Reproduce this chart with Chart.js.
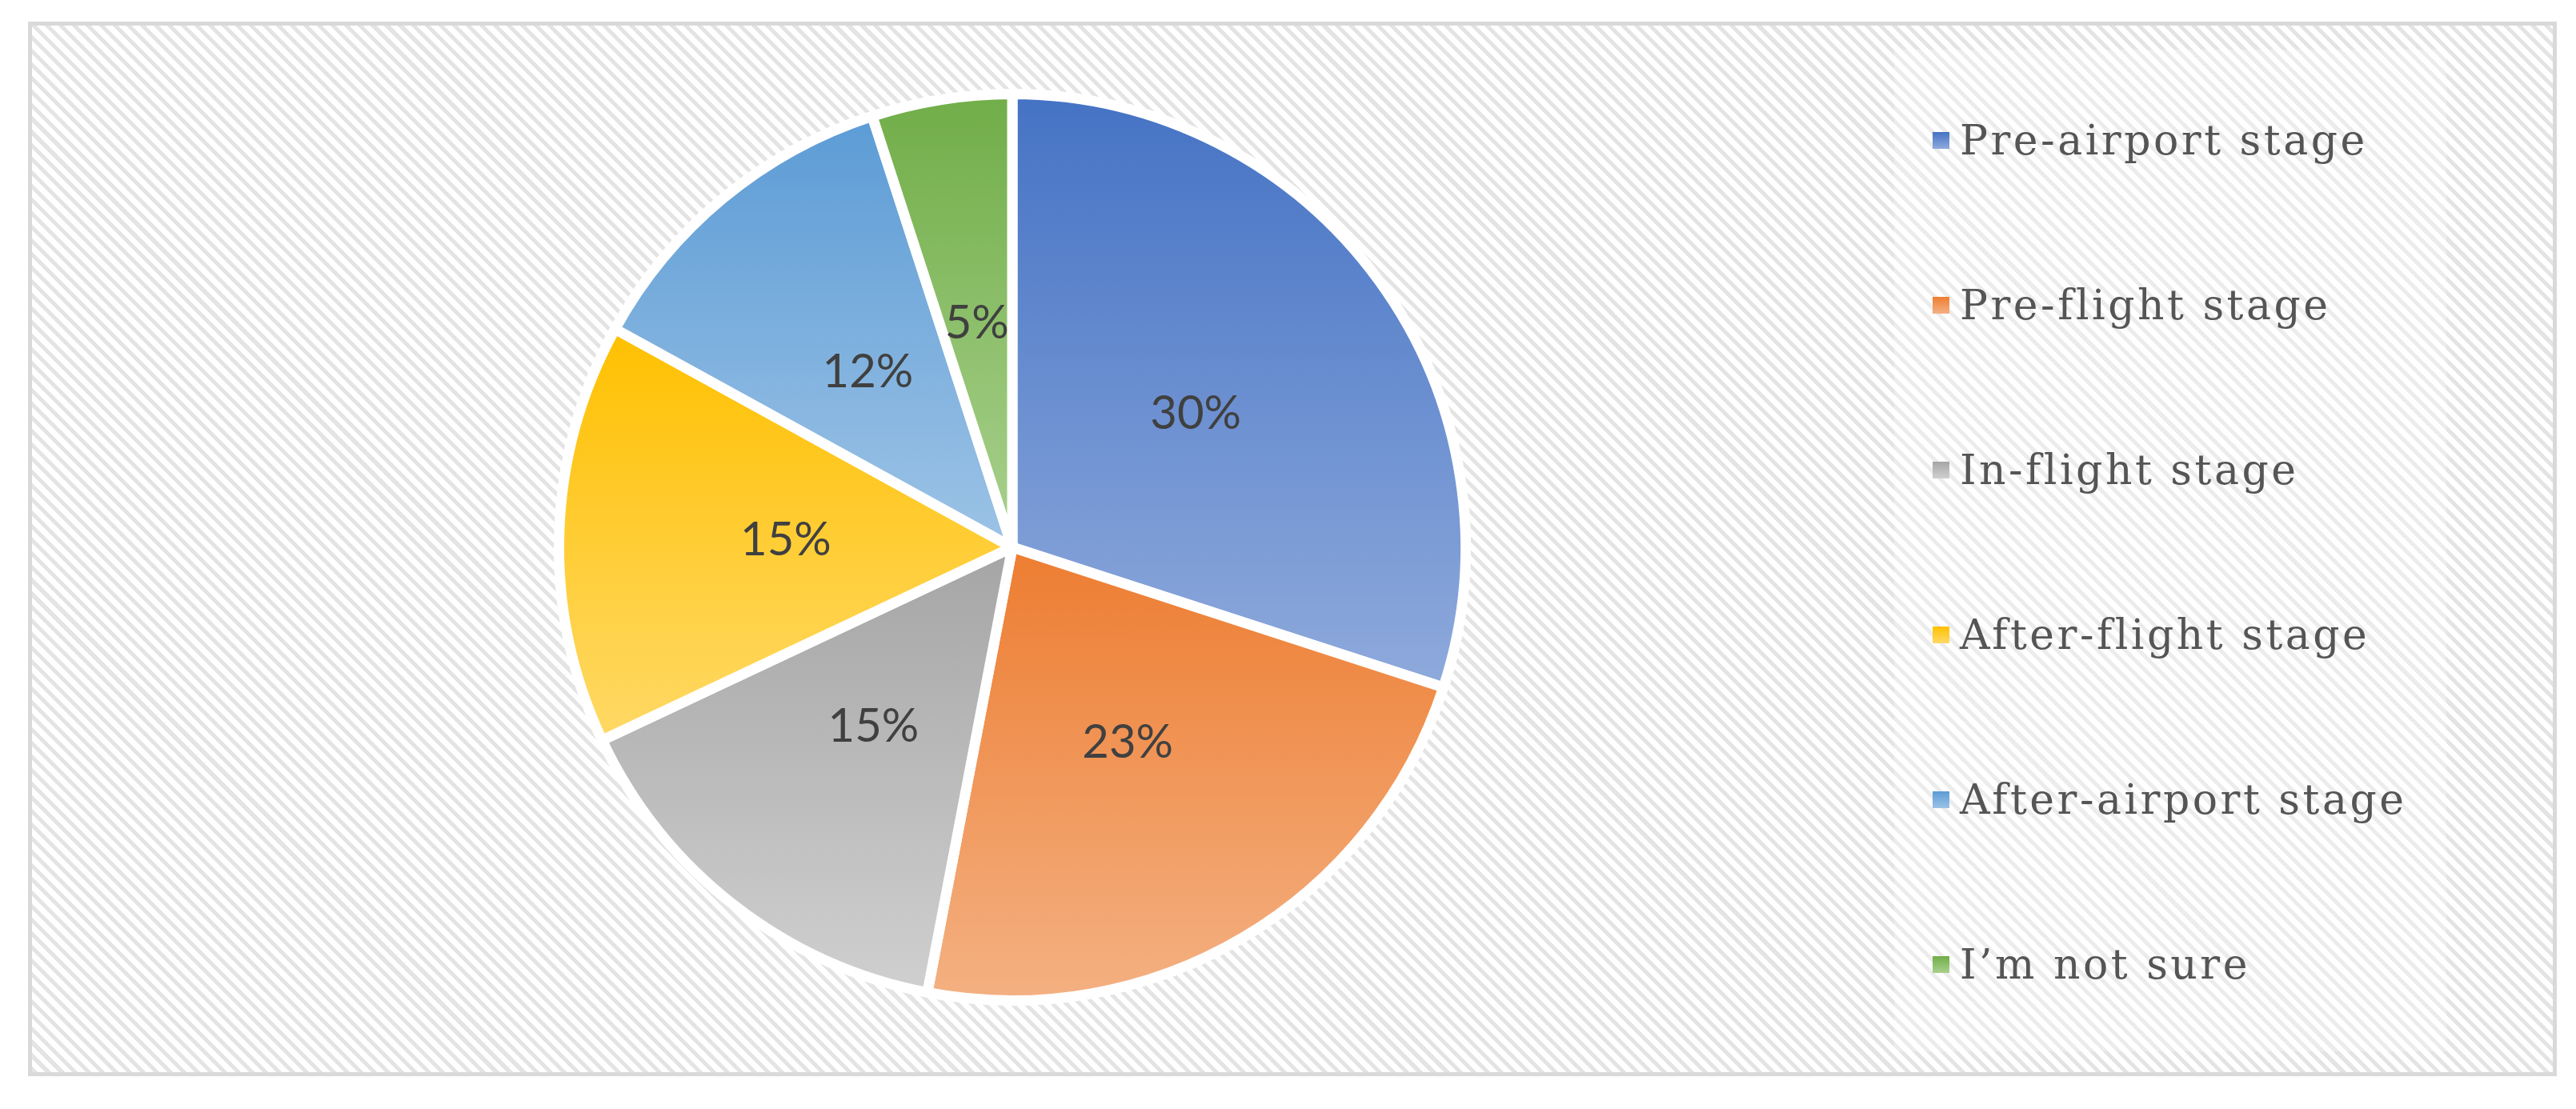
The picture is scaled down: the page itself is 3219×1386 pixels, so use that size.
<!DOCTYPE html>
<html>
<head>
<meta charset="utf-8">
<script src="https://cdn.jsdelivr.net/npm/chart.js@4.4.1/dist/chart.umd.min.js"></script>
<style>
  html, body { margin:0; padding:0; background:#fff; }
  #wrap { position:relative; width:3219px; height:1386px; overflow:hidden; background:#fff; }
  #frame { position:absolute; left:35px; top:27px; width:3160px; height:1318px; box-sizing:border-box;
           border:5px solid #d9d9d9;
           background:repeating-linear-gradient(45deg, #e4e4e4 0px, #e4e4e4 5px, #ffffff 5px, #ffffff 12px); }
  #legbg { position:absolute; left:2367px; top:62px; width:690px; height:1252px; background:rgba(255,255,255,0.3); }
  #chart { position:absolute; left:0; top:0; }
  .item { position:absolute; left:2415px; height:64px; display:flex; align-items:center; white-space:nowrap;
          font-family:"DejaVu Serif", serif; font-size:52px; color:#555555; letter-spacing:3.5px; }
  .box { width:21px; height:21px; margin-right:13px; flex:none; }
</style>
</head>
<body>
<div id="wrap">
  <div id="frame"></div>
  <div id="legbg"></div>
  <canvas id="chart" width="3219" height="1386"></canvas>
  <div id="legend"></div>
</div>
<script>
const categories = ['Pre-airport stage', 'Pre-flight stage', 'In-flight stage', 'After-flight stage', 'After-airport stage', 'I\u2019m not sure'];
const shares = [30, 23, 15, 15, 12, 5];
const topColors = ['#4472c4', '#ed7d31', '#a5a5a5', '#ffc000', '#5b9bd5', '#70ad47'];
const bottomColors = ['#8faadc', '#f4b183', '#d0d0d0', '#ffd966', '#9dc3e6', '#a9d18e'];
const legendRowCenters = [175, 381, 587, 793, 999, 1205];

// HTML legend built from the category list
const legendEl = document.getElementById('legend');
categories.forEach((name, i) => {
  const row = document.createElement('div');
  row.className = 'item';
  row.style.top = (legendRowCenters[i] - 32) + 'px';
  const box = document.createElement('span');
  box.className = 'box';
  box.style.background = 'linear-gradient(' + topColors[i] + ',' + bottomColors[i] + ')';
  const txt = document.createElement('span');
  txt.textContent = name;
  row.appendChild(box);
  row.appendChild(txt);
  legendEl.appendChild(row);
});

function sliceGradient(ctx) {
  const chart = ctx.chart;
  const area = chart.chartArea;
  const i = ctx.dataIndex;
  if (!area || i === undefined || !area.width) return topColors[i] || '#ccc';
  const cx = (area.left + area.right) / 2, cy = (area.top + area.bottom) / 2;
  const R = Math.min(area.width, area.height) / 2;
  const total = shares.reduce((a, b) => a + b, 0);
  let a0 = -Math.PI / 2;
  for (let k = 0; k < i; k++) a0 += shares[k] / total * 2 * Math.PI;
  const a1 = a0 + shares[i] / total * 2 * Math.PI;
  const ys = [cy, cy + R * Math.sin(a0), cy + R * Math.sin(a1)];
  for (const t of [-Math.PI / 2, Math.PI / 2, 3 * Math.PI / 2]) {
    if (t > a0 && t < a1) ys.push(cy + R * Math.sin(t));
  }
  const g = chart.ctx.createLinearGradient(0, Math.min(...ys), 0, Math.max(...ys));
  g.addColorStop(0, topColors[i]);
  g.addColorStop(1, bottomColors[i]);
  return g;
}

const pctLabels = {
  id: 'pctLabels',
  afterDatasetsDraw(chart) {
    const ctx = chart.ctx;
    const meta = chart.getDatasetMeta(0);
    ctx.save();
    ctx.font = '58px Lato, "Open Sans", sans-serif';
    ctx.fillStyle = '#404040';
    ctx.textAlign = 'center';
    ctx.textBaseline = 'middle';
    meta.data.forEach((arc, i) => {
      const p = arc.getCenterPoint();
      ctx.fillText(shares[i] + '%', p.x, p.y);
    });
    ctx.restore();
  }
};

function draw() {
  new Chart(document.getElementById('chart'), {
    type: 'pie',
    data: {
      labels: categories,
      datasets: [{
        data: shares,
        backgroundColor: sliceGradient,
        borderColor: '#ffffff',
        borderWidth: 13
      }]
    },
    options: {
      responsive: false,
      animation: false,
      devicePixelRatio: 1,
      layout: { padding: { left: 692, right: 1381, top: 111, bottom: 129 } },
      plugins: {
        legend: { display: false },
        tooltip: { enabled: false }
      }
    },
    plugins: [pctLabels]
  });
}

if (document.fonts && document.fonts.load) {
  Promise.all([document.fonts.load('58px Lato'), document.fonts.load('52px "DejaVu Serif"')]).then(draw, draw);
} else {
  draw();
}
</script>
</body>
</html>
